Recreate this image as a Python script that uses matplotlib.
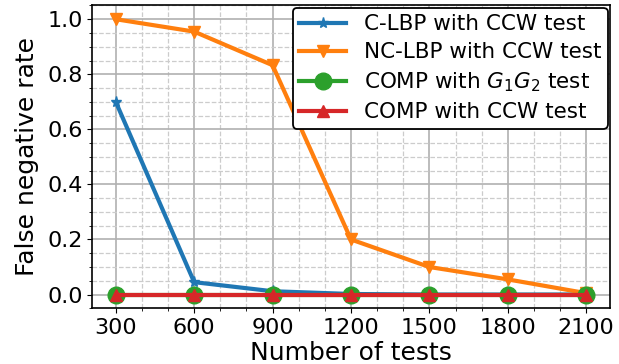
import matplotlib
matplotlib.use("Agg")
import matplotlib.pyplot as plt
from matplotlib.ticker import MultipleLocator

tests = [300, 600, 900, 1200, 1500, 1800, 2100]
clbp_ccw = [0.70, 0.045, 0.012, 0.002, 0.0, 0.0, 0.0]
nclbp_ccw = [1.0, 0.955, 0.833, 0.20, 0.10, 0.055, 0.005]
comp_g1g2 = [0, 0, 0, 0, 0, 0, 0]
comp_ccw = [0, 0, 0, 0, 0, 0, 0]

fig, ax = plt.subplots(figsize=(6.19, 3.64), dpi=100)
ax.plot(tests, clbp_ccw, color='#1f77b4', marker='*', lw=3, ms=8, label='C-LBP with CCW test')
ax.plot(tests, nclbp_ccw, color='#ff7f0e', marker='v', lw=3, ms=9, label='NC-LBP with CCW test')
ax.plot(tests, comp_g1g2, color='#2ca02c', marker='o', lw=3, ms=12, label='COMP with $G_1G_2$ test')
ax.plot(tests, comp_ccw, color='#d62728', marker='^', lw=3, ms=8, label='COMP with CCW test')

ax.set_xticks(tests)
ax.xaxis.set_minor_locator(MultipleLocator(100))
ax.yaxis.set_major_locator(MultipleLocator(0.2))
ax.yaxis.set_minor_locator(MultipleLocator(0.05))
ax.set_ylim(-0.05, 1.05)
ax.grid(which='major', color='#b0b0b0', lw=1.2)
ax.grid(which='minor', color='#cccccc', ls='--', lw=0.9)
ax.tick_params(labelsize=16)
ax.set_xlabel('Number of tests', fontsize=18, labelpad=2)
ax.set_ylabel('False negative rate', fontsize=18, labelpad=6)
for s in ax.spines.values():
    s.set_linewidth(1.2)
leg = ax.legend(loc='upper right', fontsize=15.5, framealpha=1, edgecolor='black',
                fancybox=True, borderaxespad=0.1, handlelength=2.2,
                borderpad=0.3, labelspacing=0.38)
leg.get_frame().set_linewidth(1.3)
fig.subplots_adjust(left=0.149, right=0.985, top=0.985, bottom=0.153)
fig.savefig('out.png', dpi=100)
